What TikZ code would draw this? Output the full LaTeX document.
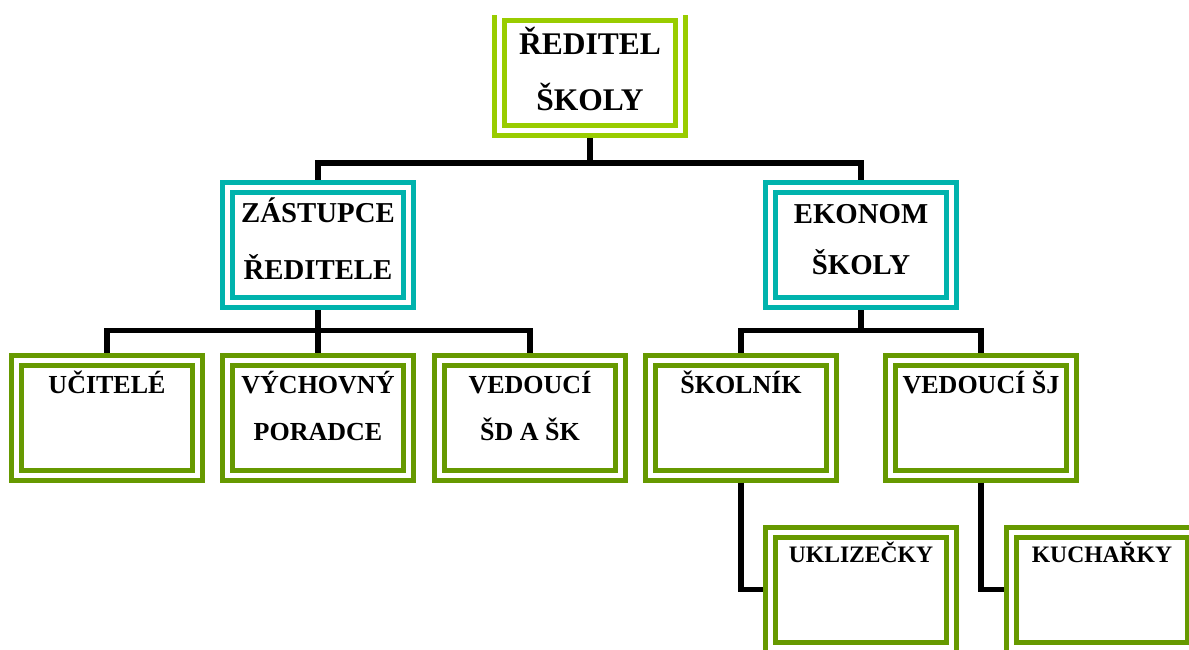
\documentclass[tikz,border=0pt]{standalone}
\usepackage{fontspec}
\setmainfont{Liberation Serif}
\usetikzlibrary{positioning}
\definecolor{boxlime}{HTML}{99CC00}
\definecolor{boxteal}{HTML}{00B3AD}
\definecolor{boxolive}{HTML}{669900}

\begin{document}
\begin{tikzpicture}[x=0.5pt, y=-0.5pt,
    every node/.style={font=\bfseries},
    box/.style={rectangle, fill=white, line width=2.5pt, double=white,
                double distance=2.5pt, minimum width=90.5pt,
                minimum height=57.5pt, inner sep=0pt, outer sep=3.75pt},
    headbox/.style={box, draw=boxlime},
    deputybox/.style={box, draw=boxteal},
    staffbox/.style={box, draw=boxolive},
    txt/.style={anchor=base, align=center, inner sep=0pt},
    t0/.style={txt, font=\fontsize{15.75pt}{28pt}\selectfont\bfseries},
    t1/.style={txt, font=\fontsize{14.4pt}{25.5pt}\selectfont\bfseries},
    t2/.style={txt, font=\fontsize{13pt}{23.5pt}\selectfont\bfseries},
    t3/.style={txt, font=\fontsize{11.8pt}{14pt}\selectfont\bfseries},
    conn/.style={line width=2.75pt}
]
    \useasboundingbox (0,0) rectangle (1189,649);
    \begin{scope}
    \clip (0,15) rectangle (1189,649);

    % vedeni (base = last line)
    \node[headbox, label={[t0, yshift=-51.25pt]north:ŘEDITEL\\ŠKOLY}] (reditel) at (590,73) {};
    \node[deputybox, label={[t1, yshift=-49.75pt]north:ZÁSTUPCE\\[3pt]ŘEDITELE}] (zast) at (318,245) {};
    \node[deputybox, label={[t1, yshift=-47.25pt]north:EKONOM\\ŠKOLY}] (ekon) at (861,245) {};

    % pedagogicky usek
    \node[staffbox, label={[t2, yshift=-20.25pt]north:UČITELÉ}] (ucit) at (107,417.5) {};
    \node[staffbox, label={[t2, yshift=-43.75pt]north:VÝCHOVNÝ\\PORADCE}] (vych) at (318,417.5) {};
    \node[staffbox, label={[t2, yshift=-43.75pt]north:VEDOUCÍ\\ŠD A ŠK}] (vedsd) at (530,417.5) {};

    % provozni usek
    \node[staffbox, label={[t2, yshift=-20.25pt]north:ŠKOLNÍK}] (skol) at (741,417.5) {};
    \node[staffbox, label={[t2, yshift=-20.25pt]north:VEDOUCÍ ŠJ}] (vedsj) at (981,417.5) {};
    \node[staffbox, label={[t3, yshift=-18.75pt]north:UKLIZEČKY}] (ukl) at (861,589.5) {};
    \node[staffbox, label={[t3, yshift=-18.75pt]north:KUCHAŘKY}] (kuch) at (1102,589.5) {};

    \coordinate (bar1) at (590,163);
    \coordinate (bar2) at (318,330.5);
    \coordinate (bar3) at (861,330.5);

    \draw[conn] (reditel.south) -- (bar1) -| (zast.north);
    \draw[conn] (bar1) -| (ekon.north);
    \draw[conn] (zast.south) -- (bar2) -| (ucit.north);
    \draw[conn] (bar2) -- (vych.north);
    \draw[conn] (bar2) -| (vedsd.north);
    \draw[conn] (ekon.south) -- (bar3) -| (skol.north);
    \draw[conn] (bar3) -| (vedsj.north);
    \draw[conn] (skol.south) |- (ukl.west);
    \draw[conn] (vedsj.south) |- (kuch.west);
    \end{scope}
\end{tikzpicture}
\end{document}
